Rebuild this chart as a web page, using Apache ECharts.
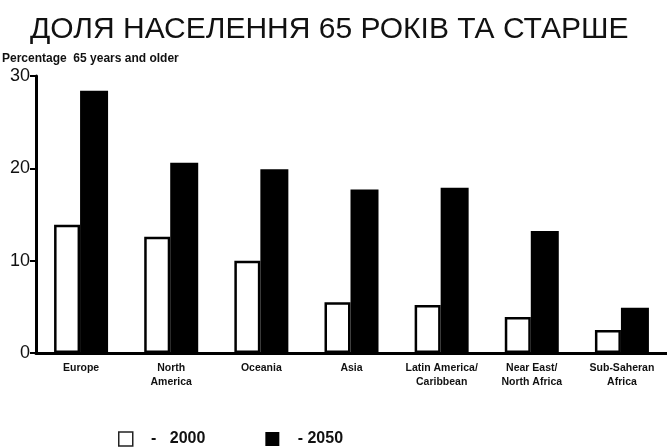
<!DOCTYPE html>
<html>
<head>
<meta charset="utf-8">
<script src="https://cdn.jsdelivr.net/npm/echarts@6/dist/echarts.min.js"></script>
<style>html,body{margin:0;padding:0;background:#fff;}#c{width:667px;height:447px;}</style>
</head>
<body>
<div id="c"></div>
<script>
const categories = ['Europe', 'North\nAmerica', 'Oceania', 'Asia', 'Latin America/\nCaribbean', 'Near East/\nNorth Africa', 'Sub-Saheran\nAfrica'];
const values2000 = [13.9, 12.6, 10.0, 5.5, 5.2, 3.9, 2.5];
const values2050 = [28.4, 20.6, 19.9, 17.7, 17.9, 13.2, 4.9];
const yTicks = [0, 10, 20, 30];
const legendLabels = {'2000': '   -   2000', '2050': '   - 2050'};

const chart = echarts.init(document.getElementById('c'), null, {renderer: 'canvas'});
chart.setOption({
  backgroundColor: '#fff',
  animation: false,
  title: [{
    text: 'ДОЛЯ НАСЕЛЕННЯ 65 РОКІВ ТА СТАРШЕ',
    left: 25, top: 10,
    textStyle: {fontFamily: 'Liberation Sans, Arial, sans-serif', fontSize: 30, fontWeight: 'normal', color: '#111'}
  }, {
    text: 'Percentage  65 years and older',
    left: -3, top: 48,
    textStyle: {fontFamily: 'Liberation Sans, Arial, sans-serif', fontSize: 12, fontWeight: 'bold', color: '#111'}
  }],
  legend: {
    left: 113, top: 426,
    itemWidth: 14, itemHeight: 14, itemGap: 60,
    formatter: n => legendLabels[n],
    textStyle: {fontFamily: 'Liberation Sans, Arial, sans-serif', fontSize: 16, fontWeight: 'bold', color: '#111'},
    data: [
      {name: '2000', icon: 'rect', itemStyle: {color: '#fff', borderColor: '#222', borderWidth: 1.5}},
      {name: '2050', icon: 'rect', itemStyle: {color: '#000'}}
    ]
  },
  grid: {left: 36, top: 76, width: 636, bottom: 94, containLabel: false},
  xAxis: {
    type: 'category',
    data: categories,
    axisLine: {lineStyle: {color: '#000', width: 3}},
    axisTick: {show: false},
    axisLabel: {
      interval: 0, margin: 8,
      fontFamily: 'Liberation Sans, Arial, sans-serif', fontSize: 10.5, fontWeight: 'bold', color: '#111', lineHeight: 14
    }
  },
  yAxis: {
    type: 'value', min: 0, max: 30, interval: 10,
    axisLine: {show: true, lineStyle: {color: '#000', width: 3}},
    axisTick: {show: true, length: 6, lineStyle: {color: '#000', width: 2}},
    splitLine: {show: false},
    axisLabel: {
      margin: 6,
      fontFamily: 'Liberation Sans, Arial, sans-serif', fontSize: 18, color: '#111',
      formatter: v => yTicks.includes(v) ? String(v) : ''
    }
  },
  series: [{
    name: '2000', type: 'bar', data: values2000,
    barWidth: 26, barGap: '0%',
    itemStyle: {color: '#fff', borderColor: '#000', borderWidth: 2.5}
  }, {
    name: '2050', type: 'bar', data: values2050,
    barWidth: 28, barGap: '0%',
    itemStyle: {color: '#000'}
  }]
});
</script>
</body>
</html>
